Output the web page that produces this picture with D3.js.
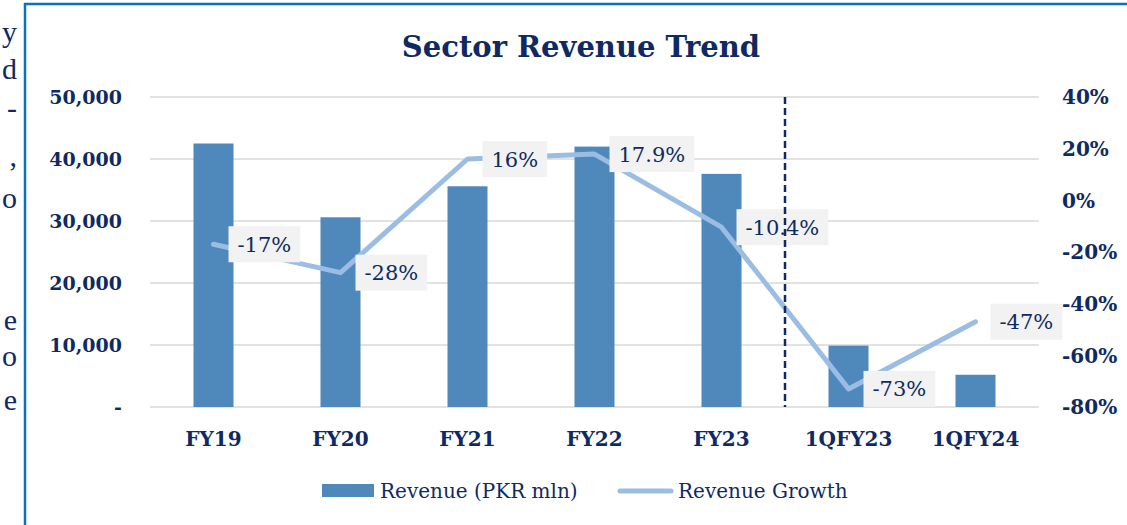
<!DOCTYPE html>
<html>
<head>
<meta charset="utf-8">
<script src="https://cdn.jsdelivr.net/npm/d3@7"></script>
<style>
	body { margin: 0; background: #ffffff; }
	text { font-family: "DejaVu Serif", serif; fill: #0f2a63; }
	.bold { font-weight: bold; }
</style>
</head>
<body>
<svg id="c1" width="1127" height="525"></svg>
<script>
let categories = ["FY19", "FY20", "FY21", "FY22", "FY23", "1QFY23", "1QFY24"];
let revenue = [42500, 30600, 35600, 42000, 37600, 9900, 5200];
let growth = [-17, -28, 16, 17.9, -10.4, -73, -47];
let growthLabels = ["-17%", "-28%", "16%", "17.9%", "-10.4%", "-73%", "-47%"];
let leftTicks = [0, 10000, 20000, 30000, 40000, 50000];
let rightTicks = [-80, -60, -40, -20, 0, 20, 40];

// bits of the page text that sits left of the chart box
let sideText = [{t: "y", y: 42}, {t: "d", y: 79}, {t: "-", y: 118}, {t: ",", y: 166}, {t: "o", y: 208}, {t: "e", y: 330}, {t: "o", y: 366}, {t: "e", y: 410}];

function drawChart(svgContainerName)
{
	let svg = d3.select("#" + svgContainerName);

	svg.append("rect").attr("width", 1127).attr("height", 525).attr("fill", "#ffffff");

	svg.selectAll(".side").data(sideText).enter().append("text").attr("class", "side")
		.attr("x", 17).attr("y", function(d) { return d.y; })
		.attr("text-anchor", "end")
		.style("font-family", "Liberation Serif").style("font-size", "30px")
		.text(function(d) { return d.t; });

	svg.append("rect").attr("x", 25).attr("y", 4).attr("width", 1130).attr("height", 540)
		.attr("fill", "none").attr("stroke", "#0a70c0").attr("stroke-width", 2.5);

	let x = d3.scaleBand().domain(categories).range([150, 1039]);
	let yLeft = d3.scaleLinear().domain([0, 50000]).range([407, 97]);
	let yRight = d3.scaleLinear().domain([-80, 40]).range([407, 97]);
	let barWidth = x.bandwidth() * 0.315;
	let cx = function(c) { return x(c) + x.bandwidth() / 2; };

	svg.append("g").selectAll("line").data(leftTicks).enter().append("line")
		.attr("x1", 150).attr("x2", 1039)
		.attr("y1", function(d) { return yLeft(d); }).attr("y2", function(d) { return yLeft(d); })
		.attr("stroke", "#d9d9d9").attr("stroke-width", 1.5);

	svg.append("g").selectAll("text").data(leftTicks).enter().append("text").attr("class", "bold")
		.attr("x", 122).attr("y", function(d) { return yLeft(d); }).attr("dy", "0.36em")
		.attr("text-anchor", "end").style("font-size", "19px")
		.text(function(d) { return d == 0 ? "-" : d3.format(",")(d); });

	svg.append("g").selectAll("text").data(rightTicks).enter().append("text").attr("class", "bold")
		.attr("x", 1062).attr("y", function(d) { return yRight(d); }).attr("dy", "0.36em")
		.style("font-size", "20px")
		.text(function(d) { return d + "%"; });

	svg.append("g").selectAll("text").data(categories).enter().append("text").attr("class", "bold")
		.attr("x", function(d) { return cx(d); }).attr("y", 446)
		.attr("text-anchor", "middle").style("font-size", "20px")
		.text(function(d) { return d; });

	svg.append("text").attr("class", "bold").attr("x", 581).attr("y", 57)
		.attr("text-anchor", "middle").style("font-size", "29px")
		.text("Sector Revenue Trend");

	svg.append("g").selectAll("rect").data(revenue).enter().append("rect")
		.attr("x", function(d, i) { return cx(categories[i]) - barWidth / 2; })
		.attr("y", function(d) { return yLeft(d); })
		.attr("width", barWidth)
		.attr("height", function(d) { return yLeft(0) - yLeft(d); })
		.attr("fill", "#4f88bb");

	let line = d3.line().x(function(d, i) { return cx(categories[i]); }).y(function(d) { return yRight(d); });

	svg.append("path").datum(growth).attr("d", line)
		.attr("fill", "none").attr("stroke", "#9bbde3").attr("stroke-width", 5)
		.attr("stroke-linecap", "round").attr("stroke-linejoin", "round");

	let labels = svg.append("g").selectAll("g").data(growth).enter().append("g")
		.attr("transform", function(d, i) { return "translate(" + (cx(categories[i]) + 15) + "," + yRight(d) + ")"; });

	labels.append("rect").attr("fill", "#f2f2f2").attr("y", -18).attr("height", 36);

	labels.append("text").attr("x", 9).attr("dy", "0.36em").style("font-size", "21px")
		.text(function(d, i) { return growthLabels[i]; })
		.each(function() {
			let w = this.getComputedTextLength();
			d3.select(this.parentNode).select("rect").attr("width", w + 18);
		});

	let split = x("1QFY23");
	svg.append("line").attr("x1", split).attr("x2", split).attr("y1", yRight(40)).attr("y2", yRight(-80))
		.attr("stroke", "#0f2a63").attr("stroke-width", 2.5).attr("stroke-dasharray", "7,4");

	// legend
	svg.append("rect").attr("x", 322).attr("y", 484).attr("width", 52).attr("height", 13).attr("fill", "#4f88bb");
	svg.append("text").attr("x", 380).attr("y", 498).style("font-size", "20px").text("Revenue (PKR mln)");
	svg.append("line").attr("x1", 620).attr("x2", 671).attr("y1", 491).attr("y2", 491)
		.attr("stroke", "#9bbde3").attr("stroke-width", 5).attr("stroke-linecap", "round");
	svg.append("text").attr("x", 678).attr("y", 498).style("font-size", "20px").text("Revenue Growth");
}

drawChart("c1");
</script>
</body>
</html>
